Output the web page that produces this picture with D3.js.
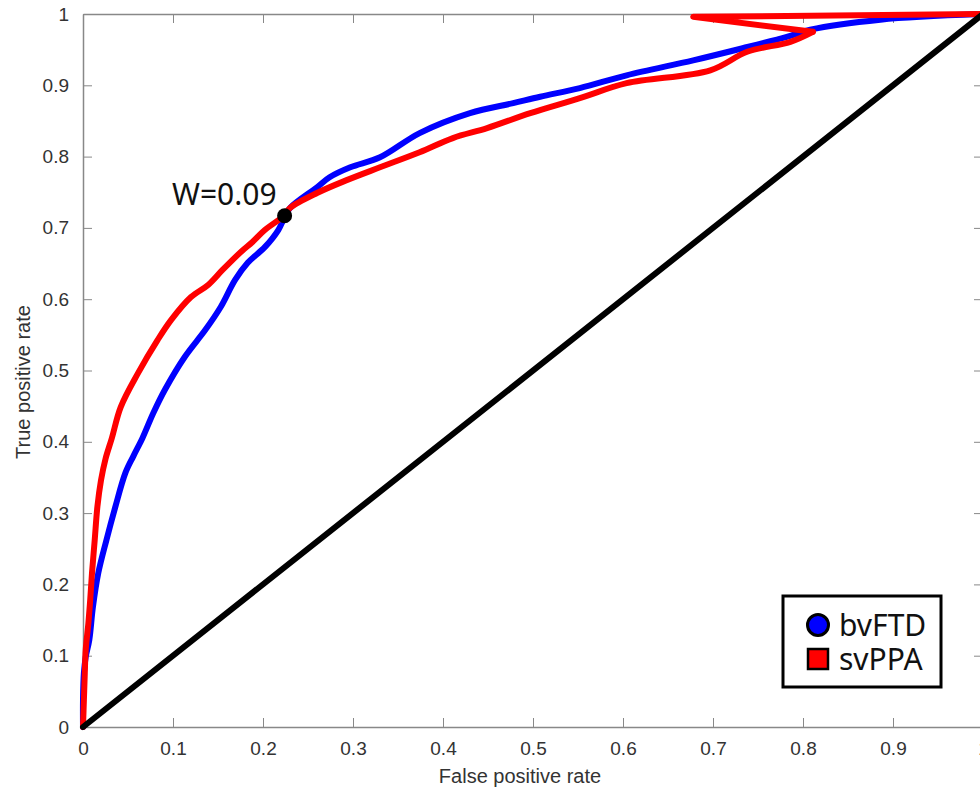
<!DOCTYPE html>
<html>
<head>
<meta charset="utf-8">
<style>
  body { margin: 0; background: #fff; }
  svg { display: block; }
  .tick text { font-family: "Liberation Sans", Arial, sans-serif; font-size: 19px; fill: #333; }
  .tick line { stroke: #888; stroke-width: 1px; }
  .domain { stroke: #888; stroke-width: 1.5px; }
  .label { font-family: "Liberation Sans", Arial, sans-serif; font-size: 20px; fill: #333; }
  .curve { fill: none; stroke-width: 6px; stroke-linejoin: round; stroke-linecap: round; }
  .note { font-family: "Noto Sans", sans-serif; font-size: 30px; fill: #111; }
</style>
</head>
<body>
<script src="https://cdn.jsdelivr.net/npm/d3@7"></script>
<script>
// ROC curves: [false positive rate, true positive rate]
var bvFTD = [
  [0, 0], [0, 0.038], [0.001, 0.076], [0.003, 0.098], [0.007, 0.122], [0.011, 0.168],
  [0.017, 0.216], [0.026, 0.262], [0.036, 0.309], [0.047, 0.356], [0.056, 0.380],
  [0.066, 0.405], [0.078, 0.440], [0.091, 0.473], [0.113, 0.519], [0.136, 0.557],
  [0.153, 0.589], [0.169, 0.627], [0.183, 0.651], [0.202, 0.673], [0.217, 0.697],
  [0.224, 0.715], [0.230, 0.728], [0.260, 0.757], [0.274, 0.771], [0.297, 0.785],
  [0.330, 0.799], [0.374, 0.833], [0.430, 0.861], [0.478, 0.875], [0.508, 0.884],
  [0.552, 0.896], [0.604, 0.914], [0.678, 0.935], [0.733, 0.952], [0.782, 0.968],
  [0.808, 0.978], [0.886, 0.992], [1, 1]
];
var svPPA = [
  [0, 0], [0.001, 0.038], [0.002, 0.076], [0.003, 0.108], [0.006, 0.146], [0.008, 0.178],
  [0.010, 0.216], [0.013, 0.262], [0.016, 0.309], [0.020, 0.346], [0.025, 0.376],
  [0.032, 0.405], [0.042, 0.449], [0.061, 0.496], [0.083, 0.543], [0.098, 0.571],
  [0.120, 0.603], [0.139, 0.620], [0.155, 0.641], [0.176, 0.667], [0.188, 0.680],
  [0.202, 0.697], [0.223, 0.717], [0.230, 0.728], [0.260, 0.749], [0.293, 0.767],
  [0.330, 0.785], [0.374, 0.806], [0.411, 0.826], [0.449, 0.840], [0.497, 0.861],
  [0.552, 0.882], [0.604, 0.903], [0.697, 0.921], [0.738, 0.947], [0.786, 0.961],
  [0.811, 0.975], [0.678, 0.996], [1, 1]
];
var chance = [[0, 0], [1, 1]];
var crossPoint = {x: 0.224, y: 0.717, label: "W=0.09"};
var ticks = [0, 0.1, 0.2, 0.3, 0.4, 0.5, 0.6, 0.7, 0.8, 0.9, 1];
var seriesNames = ["bvFTD", "svPPA"];
var seriesColors = ["#0000ff", "#ff0000"];

var W = 980, H = 793;
var margin = {top: 14, left: 83};
var width = 900, height = 713;

var svg = d3.select("body").append("svg")
    .attr("width", W)
    .attr("height", H);
var g = svg.append("g")
    .attr("transform", "translate(" + margin.left + "," + margin.top + ")");

var x = d3.scaleLinear().domain([0, 1]).range([0, width]);
var y = d3.scaleLinear().domain([0, 1]).range([height, 0]);

// axes box (MATLAB style, ticks inside on all four sides)
var fmt = function(d) { return d3.format("")(+d.toFixed(1)); };
g.append("g").attr("transform", "translate(0," + height + ")")
    .call(d3.axisBottom(x).tickValues(ticks).tickSize(-9).tickPadding(15).tickSizeOuter(0).tickFormat(fmt));
g.append("g")
    .call(d3.axisTop(x).tickValues(ticks).tickSize(-9).tickSizeOuter(0).tickFormat(""));
g.append("g")
    .call(d3.axisLeft(y).tickValues(ticks).tickSize(-9).tickPadding(14).tickSizeOuter(0).tickFormat(fmt));
g.append("g").attr("transform", "translate(" + width + ",0)")
    .call(d3.axisRight(y).tickValues(ticks).tickSize(-9).tickSizeOuter(0).tickFormat(""));

var smooth = d3.line()
    .curve(d3.curveCatmullRom.alpha(0.5))
    .x(function(d) { return x(d[0]); })
    .y(function(d) { return y(d[1]); });
var straight = d3.line()
    .x(function(d) { return x(d[0]); })
    .y(function(d) { return y(d[1]); });

// svPPA doubles back near the top; draw that tail with straight segments
var kink = svPPA.length - 3;

g.append("path").datum(bvFTD).attr("class", "curve").attr("stroke", seriesColors[0]).attr("d", smooth);
g.append("path").datum(svPPA.slice(0, kink + 1)).attr("class", "curve").attr("stroke", seriesColors[1]).attr("d", smooth);
g.append("path").datum(svPPA.slice(kink)).attr("class", "curve").attr("stroke", seriesColors[1]).attr("d", straight);
g.append("path").datum(chance).attr("class", "curve").attr("stroke", "#000").attr("stroke-linecap", "butt").attr("d", straight);

// crossing point annotation
g.append("circle")
    .attr("cx", x(crossPoint.x)).attr("cy", y(crossPoint.y))
    .attr("r", 7.5).attr("fill", "#000");
g.append("text").attr("class", "note")
    .attr("x", x(crossPoint.x) - 8).attr("y", y(crossPoint.y) - 11)
    .attr("text-anchor", "end")
    .text(crossPoint.label);

// axis labels
svg.append("text").attr("class", "label")
    .attr("x", 520).attr("y", 783)
    .attr("text-anchor", "middle")
    .text("False positive rate");
svg.append("text").attr("class", "label")
    .attr("transform", "translate(30,382) rotate(-90)")
    .attr("text-anchor", "middle")
    .text("True positive rate");

// legend
var lg = svg.append("g").attr("transform", "translate(783,596)");
lg.append("rect").attr("width", 158).attr("height", 91)
    .attr("fill", "#fff").attr("stroke", "#000").attr("stroke-width", 3);
var items = lg.selectAll(".item").data(seriesNames).enter().append("g")
    .attr("class", "item")
    .attr("transform", function(d, i) { return "translate(0," + (29 + i * 34) + ")"; });
items.each(function(d, i) {
  var s = d3.select(this);
  if (i === 0) {
    s.append("circle").attr("cx", 35).attr("cy", 0).attr("r", 10.5)
      .attr("fill", seriesColors[i]).attr("stroke", "#000").attr("stroke-width", 3);
  } else {
    s.append("rect").attr("x", 25).attr("y", -10).attr("width", 20).attr("height", 20)
      .attr("fill", seriesColors[i]).attr("stroke", "#000").attr("stroke-width", 2.5);
  }
});
items.append("text").attr("class", "note")
    .attr("x", 56).attr("y", 0).attr("dy", "0.35em")
    .attr("font-size", "26px")
    .text(function(d) { return d; });
</script>
</body>
</html>
